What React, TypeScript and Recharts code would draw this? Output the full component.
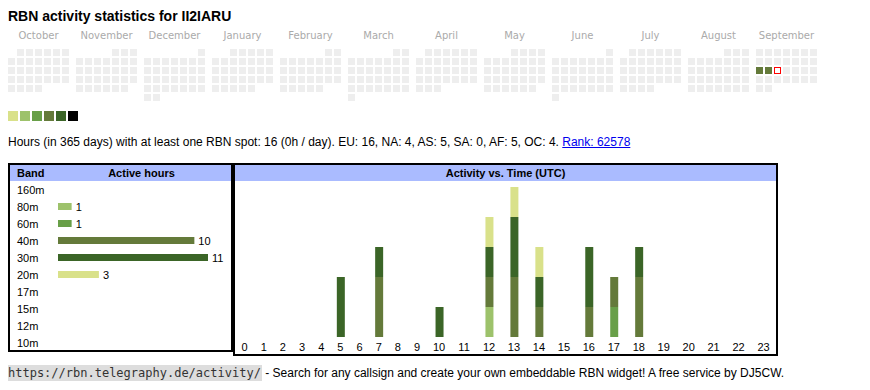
import React from 'react';
import { BarChart, Bar, XAxis, YAxis, Cell, LabelList, ScatterChart, Scatter } from 'recharts';

// ---------- data ----------
const TITLE = 'RBN activity statistics for II2IARU';
const SUMMARY = 'Hours (in 365 days) with at least one RBN spot: 16 (0h / day). EU: 16, NA: 4, AS: 5, SA: 0, AF: 5, OC: 4. ';
const RANK = 'Rank: 62578';
const FOOTER_URL = 'https://rbn.telegraphy.de/activity/';
const FOOTER_TEXT = ' - Search for any callsign and create your own embeddable RBN widget! A free service by DJ5CW.';

const months = ['October', 'November', 'December', 'January', 'February', 'March', 'April', 'May', 'June', 'July', 'August', 'September'];
const monthDays = [31, 30, 31, 31, 28, 31, 30, 31, 30, 31, 31, 30];
const monthFirstWeekday = [1, 4, 6, 2, 5, 5, 1, 3, 6, 1, 4, 0]; // Mon = 0
const activeDays = [
  { month: 11, day: 15, level: 4 },
  { month: 11, day: 16, level: 4 },
];
const today = { month: 11, day: 17 };
const levelColors = ['#d9e18a', '#9dc26b', '#689f48', '#647a3a', '#3b6527', '#000000'];

const bands = ['160m', '80m', '60m', '40m', '30m', '20m', '17m', '15m', '12m', '10m'];
const bandHours = [0, 1, 1, 10, 11, 3, 0, 0, 0, 0];
const bandColors = ['#000000', '#9dc26b', '#689f48', '#647a3a', '#3b6527', '#d9e18a', '#000000', '#000000', '#000000', '#000000'];

const hourLabels = ['0', '1', '2', '3', '4', '5', '6', '7', '8', '9', '10', '11', '12', '13', '14', '15', '16', '17', '18', '19', '20', '21', '22', '23'];
const h80 = [0, 0, 0, 0, 0, 0, 0, 0, 0, 0, 0, 0, 1, 0, 0, 0, 0, 0, 0, 0, 0, 0, 0, 0];
const h60 = [0, 0, 0, 0, 0, 0, 0, 0, 0, 0, 0, 0, 0, 0, 0, 0, 0, 1, 0, 0, 0, 0, 0, 0];
const h40 = [0, 0, 0, 0, 0, 0, 0, 2, 0, 0, 0, 0, 1, 2, 1, 0, 1, 1, 2, 0, 0, 0, 0, 0];
const h30 = [0, 0, 0, 0, 0, 2, 0, 1, 0, 0, 1, 0, 1, 2, 1, 0, 2, 0, 1, 0, 0, 0, 0, 0];
const h20 = [0, 0, 0, 0, 0, 0, 0, 0, 0, 0, 0, 0, 1, 1, 1, 0, 0, 0, 0, 0, 0, 0, 0, 0];

// ---------- derived tables ----------
const CAL_GAP = 5 / 9; // month gap in cell columns
const calCells: any[] = [];
months.forEach((_, m) => {
  for (let d = 1; d <= monthDays[m]; d++) {
    const idx = monthFirstWeekday[m] + d - 1;
    const act = activeDays.find((a) => a.month === m && a.day === d);
    calCells.push({
      u: m * (7 + CAL_GAP) + (idx % 7),
      row: Math.floor(idx / 7),
      level: act ? act.level : 0,
      today: today.month === m && today.day === d,
    });
  }
});
const monthTicks = months.map((_, m) => m * (7 + CAL_GAP) + 61 / 18);

const bandData = bands.map((b, i) => ({ band: b, hours: bandHours[i] }));

// hour columns sized like an auto-layout table cell (padding + digits)
const CELL_PAD = 13.4;
const DIGIT_W = 5.8;
let acc = 0;
const hourData = hourLabels.map((h, i) => {
  const w = CELL_PAD + h.length * DIGIT_W;
  const pos = acc + w / 2;
  acc += w;
  return { hour: h, pos, b80: h80[i], b60: h60[i], b40: h40[i], b30: h30[i], b20: h20[i] };
});
const hourTotal = acc;
const hourTicks = hourData.map((d) => d.pos);

// ---------- helpers ----------
const SANS = '"Liberation Sans", Arial, sans-serif';
const P = (x: number, y: number): React.CSSProperties => ({ position: 'absolute', left: x - 8, top: y - 8 });

const CalShape = (props: any) => {
  const { cx, cy, payload } = props;
  if (payload.today) {
    return <rect x={cx + 0.5} y={cy + 0.5} width={6} height={6} fill="#ffffff" stroke="#ff0000" strokeWidth={1} />;
  }
  return <rect x={cx} y={cy} width={7} height={7} fill={payload.level ? levelColors[payload.level - 1] : '#eeeeee'} />;
};

const MonthTick = (props: any) => {
  const { x, payload } = props;
  const m = Math.round((payload.value - 61 / 18) / (7 + CAL_GAP));
  return (
    <text x={x} y={11} textAnchor="middle" fontSize={10} fill="#aaaaaa" fontFamily='"DejaVu Sans", sans-serif'>
      {months[m]}
    </text>
  );
};

const BandTick = (props: any) => {
  const { y, payload } = props;
  return (
    <text x={7} y={y} dy={4} fontSize={11} fill="#000" fontFamily={SANS}>
      {payload.value}
    </text>
  );
};

const HourTick = (props: any) => {
  const { x, payload } = props;
  const idx = hourTicks.findIndex((t) => Math.abs(t - payload.value) < 0.01);
  return (
    <text x={x} y={170} textAnchor="middle" fontSize={11} fill="#000" fontFamily={SANS}>
      {hourLabels[idx]}
    </text>
  );
};

const BandLabel = (props: any) => {
  const { x, y, width, height, value } = props;
  if (!value) return null;
  return (
    <text x={x + width + 4} y={y + height / 2} dy={4} fontSize={11} fill="#000" fontFamily={SANS}>
      {value}
    </text>
  );
};

export default function App() {
  return (
    <div style={{ position: 'relative', width: 854, height: 374, fontFamily: SANS, color: '#000' }}>
      <div style={{ ...P(8, 8), fontSize: 14, fontWeight: 'bold', lineHeight: '16px', whiteSpace: 'nowrap' }}>{TITLE}</div>

      <div style={P(8, 28)}>
        <ScatterChart width={810} height={75} margin={{ top: 0, right: 0, bottom: 0, left: 0 }}>
          <XAxis
            dataKey="u"
            type="number"
            domain={[0, 90]}
            orientation="top"
            height={21}
            ticks={monthTicks}
            tick={<MonthTick />}
            axisLine={false}
            tickLine={false}
            interval={0}
          />
          <YAxis dataKey="row" type="number" domain={[0, 6]} reversed hide />
          <Scatter data={calCells} shape={<CalShape />} isAnimationActive={false} />
        </ScatterChart>
      </div>

      <div style={{ ...P(8, 111), display: 'flex', gap: 2 }}>
        {levelColors.map((c) => (
          <div key={c} style={{ width: 10, height: 10, background: c }} />
        ))}
      </div>

      <div style={{ ...P(8, 135), fontSize: 12, lineHeight: '14px', whiteSpace: 'nowrap' }}>
        {SUMMARY}
        <a href="#" style={{ color: '#0000ee', textDecoration: 'underline' }}>{RANK}</a>
      </div>

      {/* Band table */}
      <div style={{ ...P(8, 163), width: 225, height: 189, border: '2px solid #000', boxSizing: 'border-box' }}>
        <div style={{ position: 'absolute', left: 0, top: 0, width: 221, height: 16, background: '#aabbff', fontSize: 11, fontWeight: 'bold', lineHeight: '16px' }}>
          <span style={{ position: 'absolute', left: 7 }}>Band</span>
          <span style={{ position: 'absolute', left: 42, width: 179, textAlign: 'center' }}>Active hours</span>
        </div>
      </div>
      <div style={P(10, 181)}>
        <BarChart layout="vertical" width={221} height={170} data={bandData} margin={{ top: 0, right: 23, bottom: 0, left: 0 }}>
          <XAxis type="number" domain={[0, 11]} hide />
          <YAxis type="category" dataKey="band" width={48} tick={<BandTick />} axisLine={false} tickLine={false} interval={0} />
          <Bar dataKey="hours" barSize={7} isAnimationActive={false}>
            {bandData.map((d, i) => (
              <Cell key={d.band} fill={bandColors[i]} />
            ))}
            <LabelList dataKey="hours" content={<BandLabel />} />
          </Bar>
        </BarChart>
      </div>

      {/* Activity table */}
      <div style={{ ...P(233, 163), width: 545, height: 193, border: '2px solid #000', boxSizing: 'border-box' }}>
        <div style={{ position: 'absolute', left: 0, top: 0, width: 541, height: 16, background: '#aabbff', fontSize: 11, fontWeight: 'bold', lineHeight: '16px', textAlign: 'center' }}>
          Activity vs. Time (UTC)
        </div>
      </div>
      <div style={P(235, 181)}>
        <BarChart width={541} height={173} data={hourData} margin={{ top: 6, right: 0, bottom: 0, left: 0 }}>
          <XAxis
            dataKey="pos"
            type="number"
            domain={[0, hourTotal]}
            ticks={hourTicks}
            tick={<HourTick />}
            height={17}
            axisLine={false}
            tickLine={false}
            interval={0}
          />
          <YAxis type="number" domain={[0, 5]} hide />
          <Bar dataKey="b80" stackId="a" fill="#9dc26b" barSize={8} isAnimationActive={false} />
          <Bar dataKey="b60" stackId="a" fill="#689f48" barSize={8} isAnimationActive={false} />
          <Bar dataKey="b40" stackId="a" fill="#647a3a" barSize={8} isAnimationActive={false} />
          <Bar dataKey="b30" stackId="a" fill="#3b6527" barSize={8} isAnimationActive={false} />
          <Bar dataKey="b20" stackId="a" fill="#d9e18a" barSize={8} isAnimationActive={false} />
        </BarChart>
      </div>

      <div style={{ ...P(7, 366), fontSize: 12, lineHeight: '15px', whiteSpace: 'nowrap' }}>
        <span style={{ fontFamily: '"DejaVu Sans Mono", monospace', fontSize: 12, background: '#dddddd', padding: '1px 1px', color: '#333' }}>{FOOTER_URL}</span>
        {FOOTER_TEXT}
      </div>
    </div>
  );
}
